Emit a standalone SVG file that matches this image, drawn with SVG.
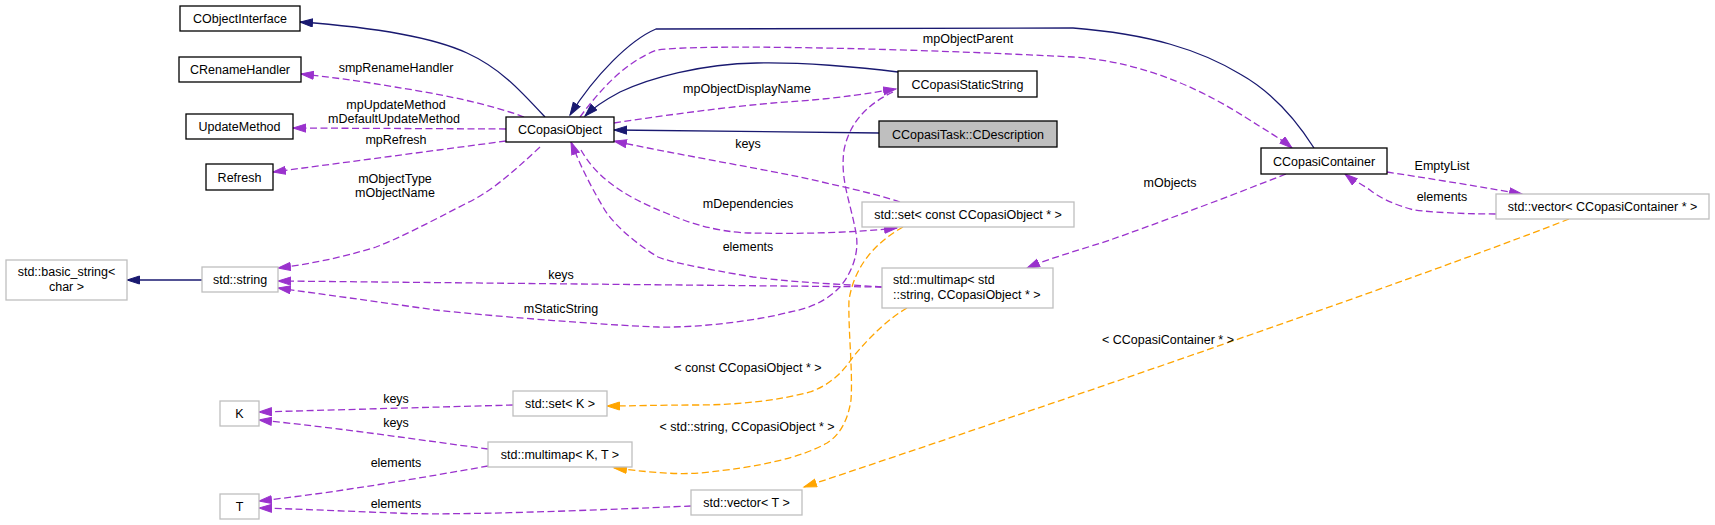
<svg xmlns="http://www.w3.org/2000/svg" width="1715" height="525" viewBox="0 0 1715 525">
<style>
text{font-family:"Liberation Sans",Arial,sans-serif;font-size:12.5px;fill:#000;text-anchor:middle}
.n rect{fill:#fff;stroke:#000;stroke-width:1.3}
.n.u rect{stroke:#bfbfbf}
.n.g rect{fill:#bfbfbf}
.l{text-anchor:start}
.e path{fill:none}
.inh{stroke:#191970;stroke-width:1.3;marker-end:url(#ab)}
.use{stroke:#9a32cd;stroke-width:1.3;stroke-dasharray:7,3.5;marker-end:url(#ap)}
.tpl{stroke:#ffa500;stroke-width:1.3;stroke-dasharray:7,3.5;marker-end:url(#ao)}
</style>
<defs>
<marker id="ab" markerUnits="userSpaceOnUse" markerWidth="15" markerHeight="11" refX="13" refY="4.5" orient="auto"><path d="M0.5,0.5 L13,4.5 L0.5,8.5 z" fill="#191970" stroke="#191970"/></marker>
<marker id="ap" markerUnits="userSpaceOnUse" markerWidth="15" markerHeight="11" refX="13" refY="4.5" orient="auto"><path d="M0.5,0.5 L13,4.5 L0.5,8.5 z" fill="#9a32cd" stroke="#9a32cd"/></marker>
<marker id="ao" markerUnits="userSpaceOnUse" markerWidth="15" markerHeight="11" refX="13" refY="4.5" orient="auto"><path d="M0.5,0.5 L13,4.5 L0.5,8.5 z" fill="#ffa500" stroke="#ffa500"/></marker>
</defs>
<rect width="1715" height="525" fill="#fff"/>
<g id="edges" class="e">
<path class="inh" d="M545,117 C520,90 500,68 467,53 C430,36 370,27 300,22"/>
<path class="inh" d="M1314,148 C1290,110 1265,88 1240,74 C1200,50 1150,34 1073,28 L656,29 C630,40 595,75 570,115"/>
<path class="inh" d="M898,72 C860,67 800,62 757,63 C700,64 650,78 620,92 C605,100 595,106 585,116"/>
<path class="inh" d="M879,133 L614,130"/>
<path class="inh" d="M202,280 L127,280"/>
<path class="use" d="M524,117 C490,104 440,94 395,87 C360,81 330,77 301,74"/>
<path class="use" d="M506,129 L293,128"/>
<path class="use" d="M506,141 L273,172"/>
<path class="use" d="M540,147 C510,175 490,192 467,203 C430,222 400,238 376,247 C340,258 310,264 278,268"/>
<path class="use" d="M882,287 L278,281"/>
<path class="use" d="M893,92 C870,103 850,120 844,150 C840,180 850,200 856,233 C860,255 850,275 840,287 C825,302 810,308 790,312 C760,320 700,328 658,327 C600,325 480,315 435,310 C380,302 320,294 278,288"/>
<path class="use" d="M614,123 C680,113 750,104 800,101 C840,98 870,93 896,89"/>
<path class="use" d="M580,117 C600,90 625,62 657,50 C700,44 900,48 1073,57 C1150,62 1210,95 1245,117 C1265,130 1280,138 1292,148"/>
<path class="use" d="M900,202 C870,192 830,184 800,177 C740,165 670,153 614,141"/>
<path class="use" d="M581,150 C595,175 620,195 666,213 C700,228 730,233 753,233 C800,234 850,233 897,228"/>
<path class="use" d="M882,287 C840,284 800,283 753,277 C700,268 670,262 658,257 C630,240 610,220 603,207 C590,185 580,165 571,142"/>
<path class="use" d="M1286,174 C1220,200 1150,226 1110,240 C1080,250 1050,258 1027,268"/>
<path class="use" d="M1387,172 C1420,177 1470,185 1522,194"/>
<path class="use" d="M1496,214 C1460,214 1430,212 1414,210 C1395,205 1380,198 1370,190 C1360,183 1350,178 1345,174"/>
<path class="use" d="M513,405 L259,412"/>
<path class="use" d="M488,449 C420,440 340,428 259,420"/>
<path class="use" d="M488,466 C420,478 340,492 259,501"/>
<path class="use" d="M691,506 C600,510 450,516 395,513 C340,511 300,509 259,508"/>
<path class="tpl" d="M1569,219 C1400,285 1050,405 804,487"/>
<path class="tpl" d="M903,227 C880,240 855,262 849,300 C848,330 853,370 851,400 C848,420 840,435 827,443 C800,458 760,467 700,473 C670,475 640,471 614,468"/>
<path class="tpl" d="M907,308 C890,318 873,333 853,357 C843,372 830,385 810,392 C780,400 740,405 697,405 C660,405 630,406 607,406"/>
<text x="396" y="72">smpRenameHandler</text>
<text x="396" y="108.5">mpUpdateMethod</text>
<text x="394" y="123">mDefaultUpdateMethod</text>
<text x="396" y="143.5">mpRefresh</text>
<text x="395" y="183">mObjectType</text>
<text x="395" y="197">mObjectName</text>
<text x="968" y="43">mpObjectParent</text>
<text x="747" y="92.5">mpObjectDisplayName</text>
<text x="748" y="148">keys</text>
<text x="748" y="208">mDependencies</text>
<text x="748" y="251">elements</text>
<text x="561" y="278.5">keys</text>
<text x="561" y="313">mStaticString</text>
<text x="1170" y="187">mObjects</text>
<text x="1442" y="170">EmptyList</text>
<text x="1442" y="201">elements</text>
<text x="1168" y="344">&lt; CCopasiContainer * &gt;</text>
<text x="748" y="371.5">&lt; const CCopasiObject * &gt;</text>
<text x="747" y="431">&lt; std::string, CCopasiObject * &gt;</text>
<text x="396" y="402.5">keys</text>
<text x="396" y="426.5">keys</text>
<text x="396" y="466.5">elements</text>
<text x="396" y="507.5">elements</text>
</g>
<g id="CObjectInterface" class="n"><rect x="180" y="6" width="120" height="25"/><text x="240" y="23">CObjectInterface</text></g>
<g id="CRenameHandler" class="n"><rect x="179" y="57" width="122" height="25"/><text x="240" y="74">CRenameHandler</text></g>
<g id="UpdateMethod" class="n"><rect x="186" y="114" width="107" height="25"/><text x="239.5" y="131">UpdateMethod</text></g>
<g id="Refresh" class="n"><rect x="206" y="164" width="67" height="26"/><text x="239.5" y="181.5">Refresh</text></g>
<g id="CCopasiObject" class="n"><rect x="506" y="117" width="108" height="25"/><text x="560" y="133.5">CCopasiObject</text></g>
<g id="CCopasiStaticString" class="n"><rect x="898" y="71" width="139" height="26"/><text x="967.5" y="88.5">CCopasiStaticString</text></g>
<g id="CCopasiTask_CDescription" class="n g"><rect x="879" y="121" width="178" height="26"/><text x="968" y="138.5">CCopasiTask::CDescription</text></g>
<g id="CCopasiContainer" class="n"><rect x="1261" y="148" width="126" height="26"/><text x="1324" y="165.5">CCopasiContainer</text></g>
<g id="set_const_CCopasiObject" class="n u"><rect x="862" y="202" width="212" height="25"/><text x="968" y="218.5">std::set&lt; const CCopasiObject * &gt;</text></g>
<g id="vector_CCopasiContainer" class="n u"><rect x="1496" y="194" width="213" height="25"/><text x="1602.5" y="210.5">std::vector&lt; CCopasiContainer * &gt;</text></g>
<g id="multimap_string_CCopasiObject" class="n u"><rect x="882" y="268" width="171" height="40"/><text class="l" x="893" y="283.5">std::multimap&lt; std</text><text class="l" x="893" y="298.5">::string, CCopasiObject * &gt;</text></g>
<g id="basic_string_char" class="n u"><rect x="6" y="260" width="121" height="40"/><text x="66.5" y="276">std::basic_string&lt;</text><text x="66.5" y="291">char &gt;</text></g>
<g id="std_string" class="n u"><rect x="202" y="267" width="76" height="25"/><text x="240" y="284">std::string</text></g>
<g id="K" class="n u"><rect x="220" y="401" width="39" height="25"/><text x="239.5" y="417.5">K</text></g>
<g id="T" class="n u"><rect x="220" y="494" width="39" height="25"/><text x="239.5" y="510.5">T</text></g>
<g id="set_K" class="n u"><rect x="513" y="391" width="94" height="25"/><text x="560" y="407.5">std::set&lt; K &gt;</text></g>
<g id="multimap_K_T" class="n u"><rect x="488" y="442" width="144" height="25"/><text x="560" y="458.5">std::multimap&lt; K, T &gt;</text></g>
<g id="vector_T" class="n u"><rect x="691" y="490" width="111" height="25"/><text x="746.5" y="506.5">std::vector&lt; T &gt;</text></g>
</svg>
